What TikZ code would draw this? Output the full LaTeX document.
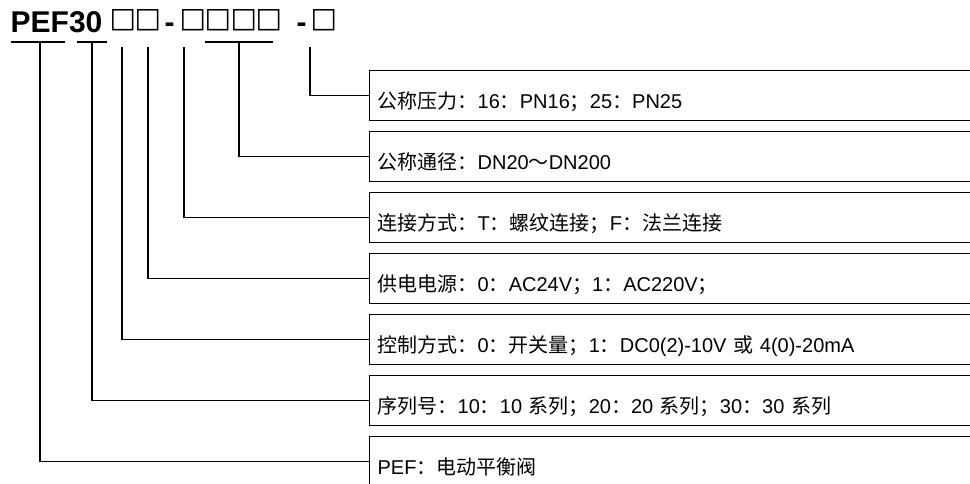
\documentclass[tikz,border=0pt]{standalone}
\usepackage{fontspec}
\setmainfont{Liberation Sans}
\newfontfamily\cjk{Noto Sans CJK SC}
\newfontfamily\symf{DejaVu Sans}
\newcommand\zh[1]{{\cjk #1}}
\newcommand\putat[2]{\makebox[0pt][l]{\hspace{#1pt}#2}}
\newcommand\sqg{\raisebox{5.5pt}{\symf\fontsize{28}{28}\selectfont □}}
\begin{document}
\begin{tikzpicture}[x=1pt,y=-1pt,
  infobox/.style={draw, line width=1.3pt, anchor=north west, text width=600pt, align=left,
    inner xsep=8pt, inner ysep=0pt, text height=38pt, text depth=12pt,
    font=\fontsize{20}{24}\selectfont},
  link/.style={line width=1.2pt}]
\useasboundingbox (0,0) rectangle (970,484);
\clip (0,0) rectangle (970,484);
\node[anchor=base west, inner sep=0pt, font=\fontsize{30}{30}\selectfont] (title) at (0,33)
 {\putat{10}{\bfseries PEF30}\putat{109}{\sqg}\putat{134}{\sqg}\putat{164}{\bfseries -}%
  \putat{179}{\sqg}\putat{204}{\sqg}\putat{230}{\sqg}\putat{255}{\sqg}%
  \putat{296}{\bfseries -}\putat{310}{\sqg}};
\node[infobox] (b0) at (369,70)  {\zh{公称压力：}16\zh{：}PN16\zh{；}25\zh{：}PN25};
\node[infobox] (b1) at (369,131) {\zh{公称通径：}DN20\zh{～}DN200};
\node[infobox] (b2) at (369,192) {\zh{连接方式：}T\zh{：螺纹连接；}F\zh{：法兰连接}};
\node[infobox] (b3) at (369,253) {\zh{供电电源：}0\zh{：}AC24V\zh{；}1\zh{：}AC220V\zh{；}};
\node[infobox] (b4) at (369,314) {\zh{控制方式：}0\zh{：开关量；}1\zh{：}DC0(2)-10V \zh{或} 4(0)-20mA};
\node[infobox] (b5) at (369,375) {\zh{序列号：}10\zh{：}10 \zh{系列；}20\zh{：}20 \zh{系列；}30\zh{：}30 \zh{系列}};
\node[infobox] (b6) at (369,436) {PEF\zh{：电动平衡阀}};
\coordinate (c0) at (310,47);
\coordinate (c1) at (239,42);
\coordinate (c2) at (184,47);
\coordinate (c3) at (148,47);
\coordinate (c4) at (122,47);
\coordinate (c5) at (92,42);
\coordinate (c6) at (40,42);
\coordinate (p1) at (11,42);  \coordinate (p2) at (65,42);
\coordinate (q1) at (77,42);  \coordinate (q2) at (107,42);
\coordinate (r1) at (205,42); \coordinate (r2) at (273,42);
\draw[link] (p1) -- (p2);
\draw[link] (q1) -- (q2);
\draw[link] (r1) -- (r2);
\draw[link] (b0.west) -| (c0);
\draw[link] (b1.west) -| (c1);
\draw[link] (b2.west) -| (c2);
\draw[link] (b3.west) -| (c3);
\draw[link] (b4.west) -| (c4);
\draw[link] (b5.west) -| (c5);
\draw[link] (b6.west) -| (c6);
\end{tikzpicture}
\end{document}
